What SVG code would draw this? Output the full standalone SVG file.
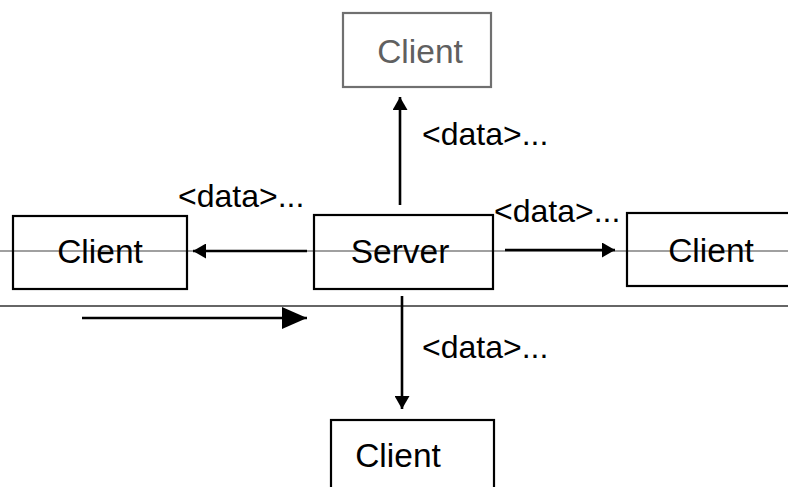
<svg xmlns="http://www.w3.org/2000/svg" width="788" height="487" viewBox="0 0 788 487">
  <defs>
    <marker id="head" viewBox="0 0 13 15" refX="13" refY="7.5" markerWidth="13" markerHeight="15" markerUnits="userSpaceOnUse" orient="auto">
      <path d="M0,0 L13,7.5 L0,15 Z" fill="#000"/>
    </marker>
    <marker id="headBig" viewBox="0 0 25 22" refX="25" refY="11" markerWidth="25" markerHeight="22" markerUnits="userSpaceOnUse" orient="auto">
      <path d="M0,0 L25,11 L0,22 Z" fill="#000"/>
    </marker>
  </defs>
  <style>
    .box { fill: none; stroke: #000; stroke-width: 2.2; }
    .box.faint { stroke: #707070; }
    .label { font-family: "Liberation Sans", Arial, sans-serif; font-size: 33.5px; fill: #000; text-anchor: middle; }
    .label.faint { fill: #606060; }
    .data { font-family: "Liberation Sans", Arial, sans-serif; font-size: 32px; fill: #000; }
    .guide { stroke: #808080; stroke-width: 1.5; }
    .rule { stroke: #333; stroke-width: 1.3; }
    .link { stroke: #000; stroke-width: 2.6; fill: none; }
  </style>

  <rect width="788" height="487" fill="#fff"/>

  <!-- guide lines -->
  <line class="guide" x1="0" y1="251" x2="788" y2="251"/>
  <line class="rule" x1="0" y1="306" x2="788" y2="306"/>

  <g id="client-top">
    <rect class="box faint" x="343" y="13" width="148" height="74"/>
    <text class="label faint" x="420" y="63">Client</text>
  </g>

  <g id="client-left">
    <rect class="box" x="13" y="216" width="174" height="73"/>
    <text class="label" x="100" y="263">Client</text>
  </g>

  <g id="server">
    <rect class="box" x="314" y="215" width="179" height="74"/>
    <text class="label" x="400" y="263">Server</text>
  </g>

  <g id="client-right">
    <rect class="box" x="627" y="213" width="170" height="73"/>
    <text class="label" x="711" y="262">Client</text>
  </g>

  <g id="client-bottom">
    <rect class="box" x="331" y="420" width="163" height="80"/>
    <text class="label" x="398" y="467">Client</text>
  </g>

  <g id="connectors">
    <line class="link" x1="400" y1="205" x2="400" y2="97" marker-end="url(#head)"/>
    <line class="link" x1="307" y1="251" x2="193" y2="251" marker-end="url(#head)"/>
    <line class="link" x1="505" y1="250" x2="615" y2="250" marker-end="url(#head)"/>
    <line class="link" x1="402" y1="296" x2="402" y2="409" marker-end="url(#head)"/>
    <line class="link" x1="82" y1="318" x2="307" y2="318" marker-end="url(#headBig)"/>
    <text class="data" x="422" y="145">&lt;data&gt;...</text>
    <text class="data" x="178" y="207">&lt;data&gt;...</text>
    <text class="data" x="494" y="222">&lt;data&gt;...</text>
    <text class="data" x="422" y="358">&lt;data&gt;...</text>
  </g>
</svg>
